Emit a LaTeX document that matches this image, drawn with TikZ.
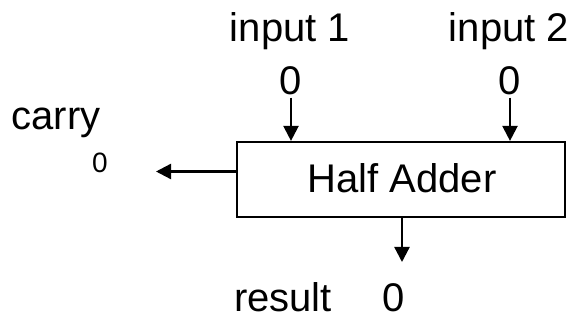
\documentclass[tikz,border=0pt]{standalone}
\usepackage{fontspec}
\setmainfont{Liberation Sans}
\usetikzlibrary{arrows.meta}
\begin{document}
\begin{tikzpicture}[x=1pt,y=-1pt,
  big/.style={font=\fontsize{40}{48}\selectfont,inner sep=0pt,anchor=base},
  small/.style={font=\fontsize{28}{32}\selectfont,inner sep=0pt,anchor=base},
  arr/.style={line width=2.3pt,-{Triangle[length=15pt,width=15pt]}},
  blockbox/.style={draw,line width=2.2pt,minimum width=328pt,minimum height=75pt,inner sep=0pt}]
\useasboundingbox (0,0) rectangle (581,320);
\node[blockbox] (box) at (401,179.5) {};
\node[big] (ha) at (402,193) {Half Adder};
\node[big] (in1l) at (290,42) {input 1};
\node[big] (in1v) at (291,95) {0};
\node[big] (in2l) at (509,42) {input 2};
\node[big] (in2v) at (510,95) {0};
\node[big] (carryl) at (56,130) {carry};
\node[small] (carryv) at (100,173) {0};
\node[big] (resl) at (283,312) {result};
\node[big] (resv) at (394,312) {0};
\coordinate (carryend) at (156,171.5);
\coordinate (resend) at (402,262);
\draw[arr] ([yshift=-2pt]in1v.south) -- (in1v.south |- box.north);
\draw[arr] ([yshift=-2pt]in2v.south) -- (in2v.south |- box.north);
\draw[arr] (box.west |- carryend) -- (carryend);
\draw[arr] (box.south -| resend) -- (resend);
\end{tikzpicture}
\end{document}
